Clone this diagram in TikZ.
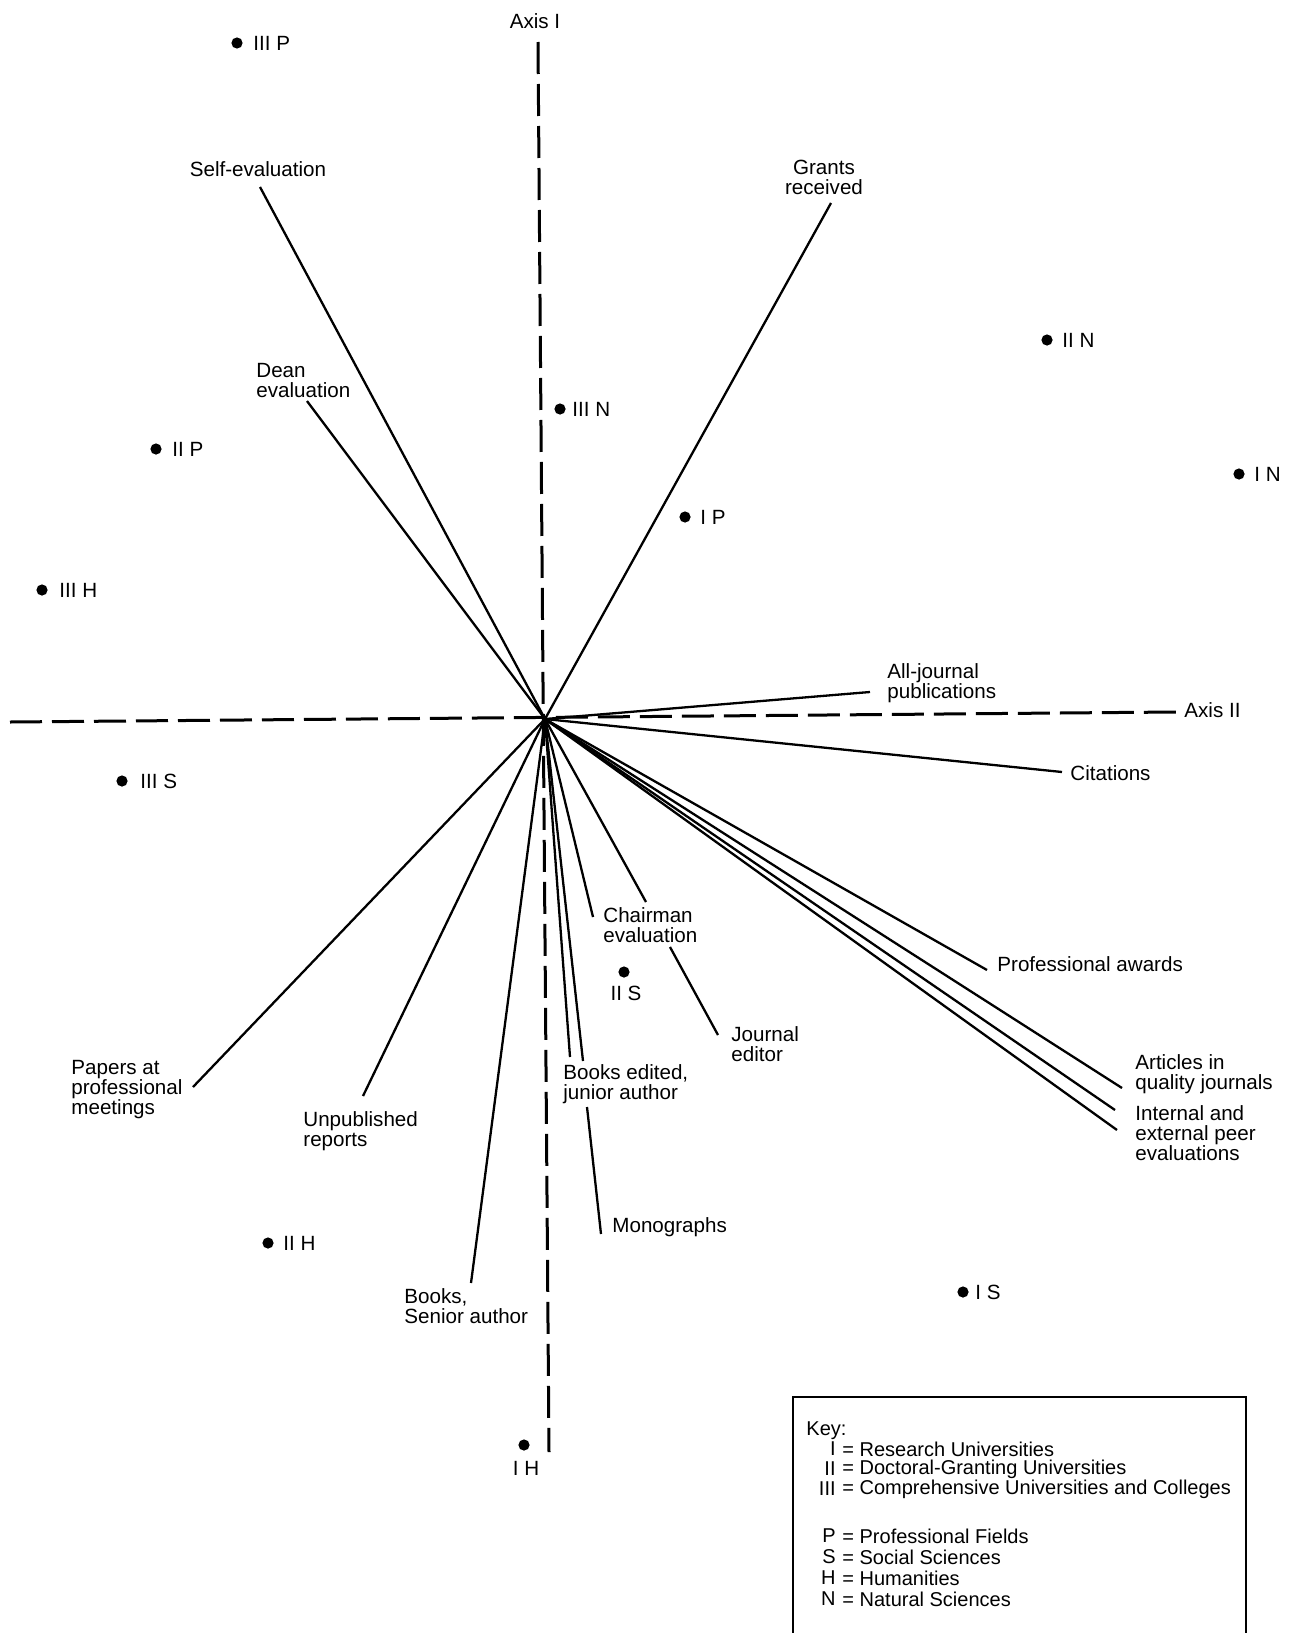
\documentclass[tikz,border=0pt]{standalone}
\usepackage{fontspec}
\setmainfont{Liberation Sans}
\begin{document}
\begin{tikzpicture}[x=0.5pt,y=-0.5pt,
  axisline/.style={line width=1.5pt, dash pattern=on 16pt off 5pt},
  vec/.style={line width=1.15pt},
  lbl/.style={font=\fontsize{10.3pt}{10pt}\selectfont, align=left, inner sep=0pt},
  keylbl/.style={lbl, font=\fontsize{10pt}{10pt}\selectfont},
  dot/.style={circle, fill=black, inner sep=0pt, minimum size=5.6pt},
  keybox/.style={line width=1.2pt}]
\useasboundingbox (0,0) rectangle (1293,1633);
% axes
\coordinate (C) at (545,719);
\coordinate (A1t) at (538,42);
\coordinate (A1b) at (549,1452);
\coordinate (A2l) at (10,722);
\coordinate (A2r) at (1176,712);
\draw[axisline] (A1t) -- (A1b);
\draw[axisline] (A2l) -- (A2r);
\node[lbl] (axisI) at (535,21) {Axis I};
\node[lbl, anchor=west] (axisII) at (1184,710) {Axis II};
% labels
\node[lbl] (self) at (258,169) {Self-evaluation};
\node[lbl, anchor=west] (dean) at (256,381) {Dean\\evaluation};
\node[lbl, align=center] (grants) at (824,177) {Grants\\received};
\node[lbl, anchor=west] (alljour) at (887,683) {All-journal\\publications};
\node[lbl, anchor=west] (cit) at (1070,773) {Citations};
\node[lbl, anchor=west] (award) at (997,964) {Professional awards};
\node[lbl, anchor=west] (articles) at (1135,1074) {Articles in\\quality journals};
\node[lbl, anchor=west] (peer) at (1135,1133) {Internal and\\external peer\\evaluations};
\node[lbl, anchor=west] (chair) at (603,925) {Chairman\\evaluation};
\node[lbl, anchor=west] (jed) at (731,1044) {Journal\\editor};
\node[lbl, anchor=west] (bked) at (563,1084) {Books edited,\\junior author};
\node[lbl, anchor=west] (mono) at (612,1227) {Monographs};
\node[lbl, anchor=west] (bksen) at (404,1306) {Books,\\Senior author};
\node[lbl, anchor=west] (unpub) at (303,1131) {Unpublished\\reports};
\node[lbl, anchor=west] (papers) at (71,1090) {Papers at\\professional\\meetings};
% line end points
\coordinate (eSelf) at (260,187);
\coordinate (eDean) at (307,401);
\coordinate (eGrants) at (831,203);
\coordinate (eAll) at (870,692);
\coordinate (eCit) at (1062,772);
\coordinate (eAward) at (987,970);
\coordinate (eArt) at (1122,1088);
\coordinate (ePeerA) at (1115,1110);
\coordinate (ePeerB) at (1117,1130);
\coordinate (eChair) at (593,917);
\coordinate (eJedA) at (646,902);
\coordinate (eJedB) at (670,947);
\coordinate (eJedC) at (718,1035);
\coordinate (eBked) at (570,1057);
\coordinate (eMonoA) at (583,1061);
\coordinate (eMonoB) at (587,1107);
\coordinate (eMonoC) at (601,1234);
\coordinate (eBksen) at (471,1283);
\coordinate (eUnpub) at (363,1096);
\coordinate (ePapers) at (193,1087);
\foreach \e in {eSelf,eDean,eGrants,eAll,eCit,eAward,eArt,ePeerA,ePeerB,eChair,eJedA,eBked,eMonoA,eBksen,eUnpub,ePapers}
  \draw[vec] (C) -- (\e);
\draw[vec] (eJedB) -- (eJedC);
\draw[vec] (eMonoB) -- (eMonoC);
% points
\node[dot] (dIIIP) at (237,43) {};
\node[lbl, anchor=west] at (253,43) {III P};
\node[dot] (dIIN) at (1047,340) {};
\node[lbl, anchor=west] at (1062,340) {II N};
\node[dot] (dIIIN) at (560,409) {};
\node[lbl, anchor=west] at (572,409) {III N};
\node[dot] (dIIP) at (156,449) {};
\node[lbl, anchor=west] at (172,449) {II P};
\node[dot] (dIN) at (1239,474) {};
\node[lbl, anchor=west] at (1254,474) {I N};
\node[dot] (dIP) at (685,517) {};
\node[lbl, anchor=west] at (700,517) {I P};
\node[dot] (dIIIH) at (42,590) {};
\node[lbl, anchor=west] at (59,590) {III H};
\node[dot] (dIIIS) at (122,781) {};
\node[lbl, anchor=west] at (140,781) {III S};
\node[dot] (dIIS) at (624,972) {};
\node[lbl] at (626,993) {II S};
\node[dot] (dIIH) at (268,1243) {};
\node[lbl, anchor=west] at (283,1243) {II H};
\node[dot] (dIS) at (963,1292) {};
\node[lbl, anchor=west] at (975,1292) {I S};
\node[dot] (dIH) at (524,1445) {};
\node[lbl] at (526,1468) {I H};
% key
\coordinate (kbl) at (793,1640);
\coordinate (ktl) at (793,1397);
\coordinate (ktr) at (1246,1397);
\coordinate (kbr) at (1246,1640);
\draw[keybox] (kbl) -- (ktl) -- (ktr) -- (kbr);
\node[keylbl, anchor=west] (keyt) at (806,1431) {Key:};
\node[keylbl, anchor=east] at (836,1449) {I};
\node[keylbl, anchor=west] at (842,1449) {= Research Universities};
\node[keylbl, anchor=east] at (836,1469) {II};
\node[keylbl, anchor=west] at (842,1469) {= Doctoral-Granting Universities};
\node[keylbl, anchor=east] at (836,1489) {III};
\node[keylbl, anchor=west] at (842,1489) {= Comprehensive Universities and Colleges};
\node[keylbl, anchor=east] at (836,1536) {P};
\node[keylbl, anchor=west] at (842,1536) {= Professional Fields};
\node[keylbl, anchor=east] at (836,1557) {S};
\node[keylbl, anchor=west] at (842,1557) {= Social Sciences};
\node[keylbl, anchor=east] at (836,1578) {H};
\node[keylbl, anchor=west] at (842,1578) {= Humanities};
\node[keylbl, anchor=east] at (836,1599) {N};
\node[keylbl, anchor=west] at (842,1599) {= Natural Sciences};
\end{tikzpicture}
\end{document}
